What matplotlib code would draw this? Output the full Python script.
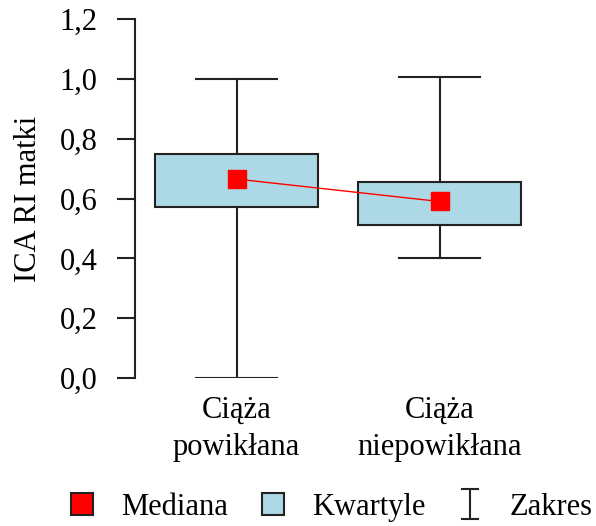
import matplotlib.pyplot as plt
from matplotlib.lines import Line2D
from matplotlib.path import Path

plt.rcParams['font.family'] = ['Liberation Serif', 'DejaVu Serif']

# dane
grupy = ["Ciąża\npowikłana", "Ciąża\nniepowikłana"]
minimum = [0.0, 0.40]
kwartyl_1 = [0.57, 0.51]
mediana = [0.665, 0.59]
kwartyl_3 = [0.75, 0.655]
maksimum = [1.0, 1.005]
yticks = [0.0, 0.2, 0.4, 0.6, 0.8, 1.0, 1.2]
ytick_labels = ["0,0", "0,2", "0,4", "0,6", "0,8", "1,0", "1,2"]

stats = []
for i in range(len(grupy)):
    stats.append({
        "med": mediana[i],
        "q1": kwartyl_1[i],
        "q3": kwartyl_3[i],
        "whislo": minimum[i],
        "whishi": maksimum[i],
        "fliers": [],
    })

fig = plt.figure(figsize=(5.96, 5.26), dpi=100)
ax = fig.add_axes([135 / 596, 148 / 526, 406 / 596, 359 / 526])

pozycje = list(range(len(grupy)))
ax.bxp(stats, positions=pozycje, widths=0.8, capwidths=0.4,
       patch_artist=True, showfliers=False,
       boxprops=dict(facecolor="#ADD8E6", edgecolor="#222222", linewidth=1.5),
       whiskerprops=dict(color="#222222", linewidth=1.5),
       capprops=dict(color="#222222", linewidth=1.5),
       medianprops=dict(linewidth=0))

ax.plot(pozycje, mediana, color="red", linewidth=1, marker="s",
        markersize=13, markerfacecolor="red", markeredgecolor="red", zorder=5)

ax.set_xlim(-0.5, 1.5)
ax.set_ylim(0, 1.2)
ax.set_yticks(yticks)
ax.set_yticklabels(ytick_labels, fontsize=22)
ax.set_xticks(pozycje)
ax.set_xticklabels(grupy, fontsize=22, linespacing=1.36)
ax.tick_params(axis="y", length=13, width=1.5, pad=14, color="#222222")
ax.tick_params(axis="x", length=0, pad=13)
ax.set_ylabel("ICA RI matki", fontsize=22, labelpad=12)

for s in ["top", "right", "bottom"]:
    ax.spines[s].set_visible(False)
ax.spines["left"].set_linewidth(1.5)
ax.spines["left"].set_color("#222222")

# znacznik "I" dla zakresu
zakres_path = Path([(-0.6, -1), (0.6, -1), (0, -1), (0, 1), (-0.6, 1), (0.6, 1)],
                   [Path.MOVETO, Path.LINETO, Path.MOVETO, Path.LINETO,
                    Path.MOVETO, Path.LINETO])

uchwyty = [
    Line2D([], [], linestyle="none", marker="s", markersize=16,
           markerfacecolor="red", markeredgecolor="#222222", markeredgewidth=1.5),
    Line2D([], [], linestyle="none", marker="s", markersize=16,
           markerfacecolor="#ADD8E6", markeredgecolor="#222222", markeredgewidth=1.5),
    Line2D([], [], linestyle="none", marker=zakres_path, markersize=22,
           markerfacecolor="none", markeredgecolor="#222222", markeredgewidth=1.5),
]
fig.legend(uchwyty, ["Mediana", "Kwartyle", "Zakres"], loc="center",
           bbox_to_anchor=(0.556, 0.036), ncol=3, frameon=False, fontsize=22,
           handlelength=0.75, handleheight=0.75, handletextpad=0.9,
           columnspacing=1.1, borderpad=0, borderaxespad=0)

fig.savefig("out.png", dpi=100)
